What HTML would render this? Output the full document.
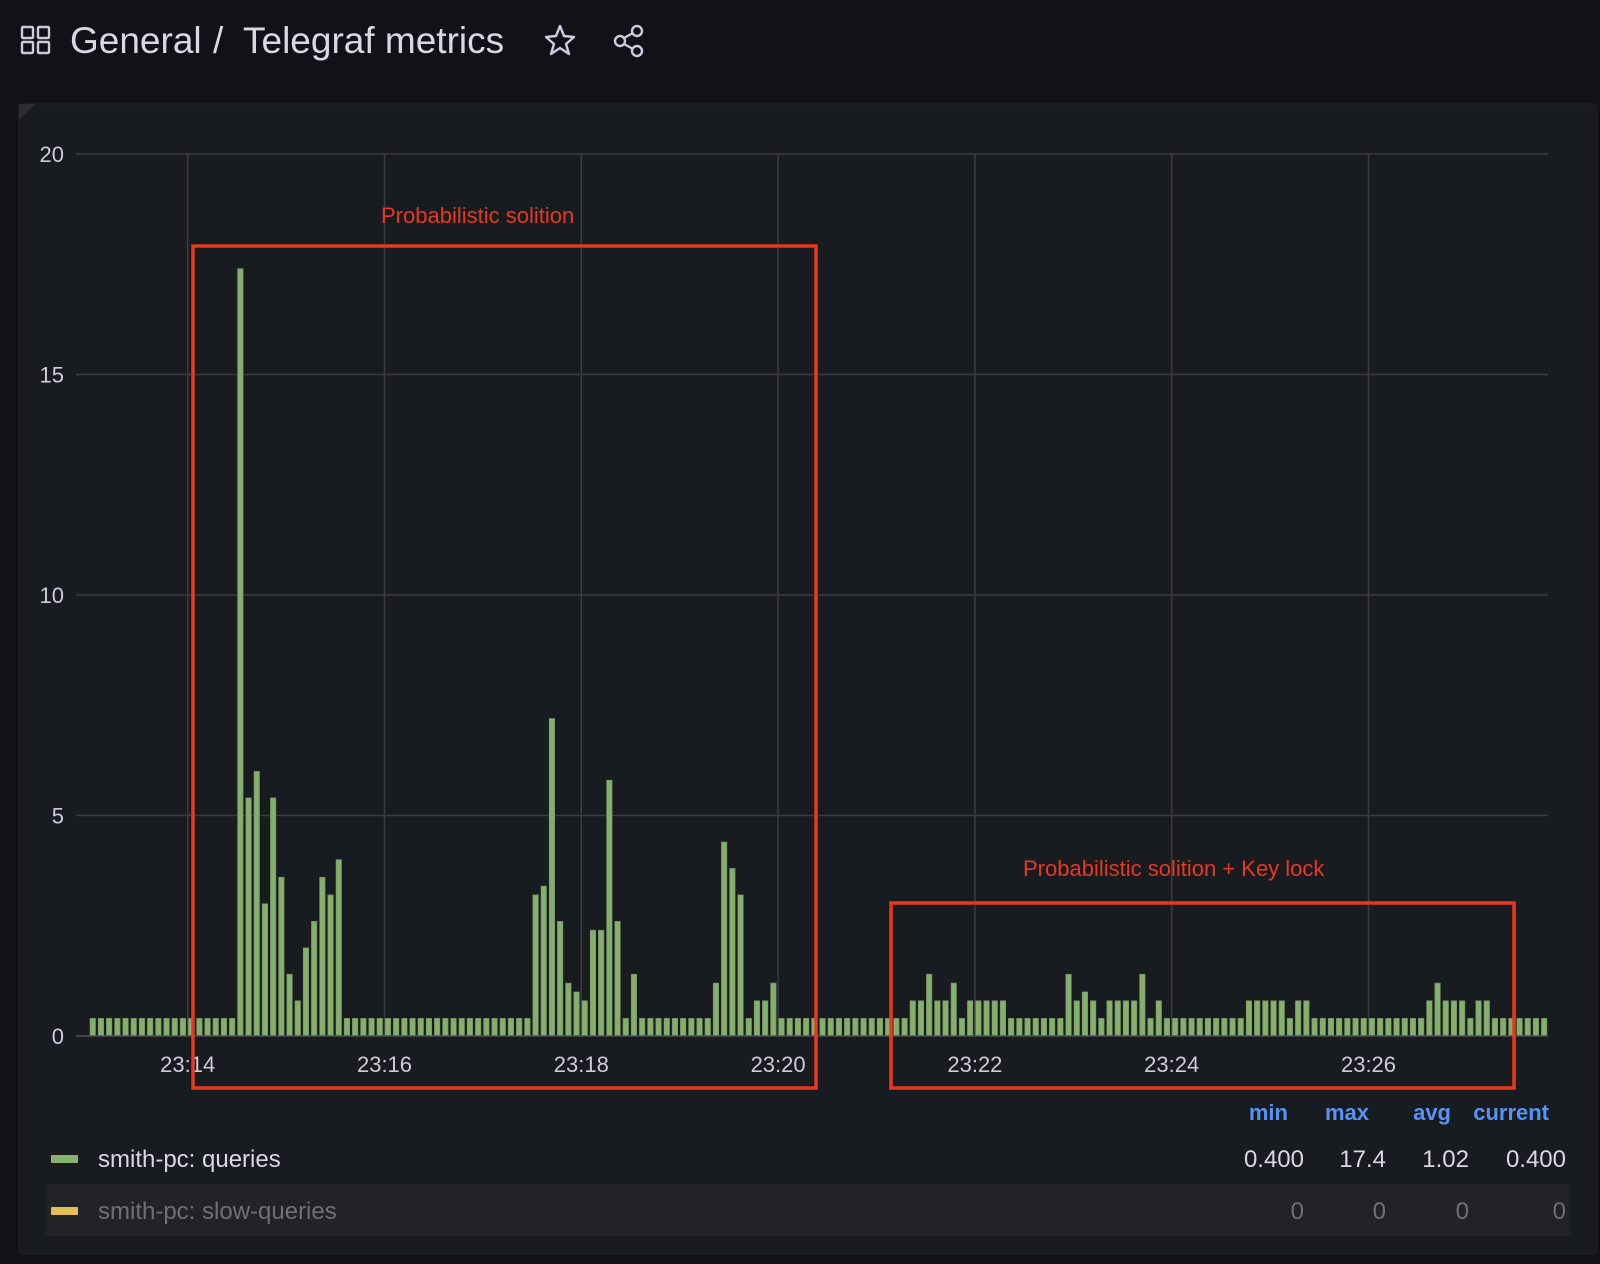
<!DOCTYPE html>
<html><head><meta charset="utf-8">
<style>
body{margin:0;width:1600px;height:1264px;background:#111217;overflow:hidden;font-family:"Liberation Sans",sans-serif;}
svg{display:block}
</style></head>
<body>
<svg width="1600" height="1264" viewBox="0 0 1600 1264" xmlns="http://www.w3.org/2000/svg">
<rect x="0" y="0" width="1600" height="1264" fill="#111217"/>
<g>
<g fill="none" stroke="#ccccdc" stroke-width="2.4">
<rect x="22" y="27" width="11" height="11" rx="1"/><rect x="38" y="27" width="11" height="11" rx="1"/>
<rect x="22" y="42" width="11" height="11" rx="1"/><rect x="38" y="42" width="11" height="11" rx="1"/>
</g>
<text x="70" y="53" font-size="37" fill="#d8d9e3">General</text>
<text x="213" y="53" font-size="37" fill="#d8d9e3">/</text>
<text x="243" y="53" font-size="37" fill="#d8d9e3">Telegraf metrics</text>
<path d="M560,26 L564,36 L574,37 L566,44 L569,54 L560,48 L551,54 L554,44 L546,37 L556,36 Z" fill="none" stroke="#ccccdc" stroke-width="2.4" stroke-linejoin="round"/>
<g fill="none" stroke="#ccccdc" stroke-width="2.4">
<circle cx="637" cy="31" r="5"/><circle cx="620" cy="41" r="5"/><circle cx="637" cy="51" r="5"/>
<line x1="624" y1="38" x2="633" y2="33"/><line x1="624" y1="44" x2="633" y2="49"/>
</g>
</g>
<rect x="19" y="104" width="1578" height="1150" rx="3" fill="#181b1f" stroke="#202226"/>
<path d="M19,104 L35,104 L19,120 Z" fill="#2a2d33"/>
<g id="grid"></g>
<g id="bars"></g>
<g id="axes"></g>
<g>
<rect x="193" y="246" width="623" height="842" fill="none" stroke="#e8391f" stroke-width="3.5"/>
<text x="381" y="223" font-size="22" fill="#e8391f">Probabilistic solition</text>
<rect x="891" y="903" width="623" height="185" fill="none" stroke="#e8391f" stroke-width="3.5"/>
<text x="1023" y="876" font-size="22" fill="#e8391f">Probabilistic solition + Key lock</text>
</g>
<g font-size="24">
<text x="1288" y="1120" text-anchor="end" fill="#5794f2" font-weight="bold" font-size="22">min</text>
<text x="1369" y="1120" text-anchor="end" fill="#5794f2" font-weight="bold" font-size="22">max</text>
<text x="1451" y="1120" text-anchor="end" fill="#5794f2" font-weight="bold" font-size="22">avg</text>
<text x="1549" y="1120" text-anchor="end" fill="#5794f2" font-weight="bold" font-size="22">current</text>
<g>
<rect x="51" y="1155" width="27" height="8" rx="1" fill="#8ab26f"/>
<text x="98" y="1167" fill="#d8d9e3">smith-pc: queries</text>
<text x="1304" y="1167" text-anchor="end" fill="#d8d9e3">0.400</text>
<text x="1386" y="1167" text-anchor="end" fill="#d8d9e3">17.4</text>
<text x="1469" y="1167" text-anchor="end" fill="#d8d9e3">1.02</text>
<text x="1566" y="1167" text-anchor="end" fill="#d8d9e3">0.400</text>
</g>
<g>
<rect x="46" y="1184" width="1524" height="52" fill="#222327"/>
<rect x="51" y="1207" width="27" height="8" rx="1" fill="#e5bf56"/>
<text x="98" y="1219" fill="#6e7079">smith-pc: slow-queries</text>
<text x="1304" y="1219" text-anchor="end" fill="#6e7079">0</text>
<text x="1386" y="1219" text-anchor="end" fill="#6e7079">0</text>
<text x="1469" y="1219" text-anchor="end" fill="#6e7079">0</text>
<text x="1566" y="1219" text-anchor="end" fill="#6e7079">0</text>
</g>
</g>
</svg>
<script>
const queries=[0.4,0.4,0.4,0.4,0.4,0.4,0.4,0.4,0.4,0.4,0.4,0.4,0.4,0.4,0.4,0.4,0.4,0.4,
17.4,5.4,6.0,3.0,5.4,3.6,1.4,0.8,2.0,2.6,3.6,3.2,4.0,
0.4,0.4,0.4,0.4,0.4,0.4,0.4,0.4,0.4,0.4,0.4,0.4,0.4,0.4,0.4,0.4,0.4,0.4,0.4,0.4,0.4,0.4,0.4,
3.2,3.4,7.2,2.6,1.2,1.0,0.8,2.4,2.4,5.8,2.6,0.4,1.4,
0.4,0.4,0.4,0.4,0.4,0.4,0.4,0.4,0.4,
1.2,4.4,3.8,3.2,0.4,0.8,0.8,1.2,
0.4,0.4,0.4,0.4,0.4,0.4,0.4,0.4,0.4,0.4,0.4,0.4,0.4,0.4,0.4,0.4,
0.8,0.8,1.4,0.8,0.8,1.2,0.4,0.8,0.8,0.8,0.8,0.8,
0.4,0.4,0.4,0.4,0.4,0.4,0.4,
1.4,0.8,1.0,0.8,0.4,0.8,0.8,0.8,0.8,1.4,0.4,0.8,
0.4,0.4,0.4,0.4,0.4,0.4,0.4,0.4,0.4,0.4,
0.8,0.8,0.8,0.8,0.8,0.4,0.8,0.8,
0.4,0.4,0.4,0.4,0.4,0.4,0.4,0.4,0.4,0.4,0.4,0.4,0.4,0.4,
0.8,1.2,0.8,0.8,0.8,0.4,0.8,0.8,
0.4,0.4,0.4,0.4,0.4,0.4,0.4];
const yTicks=[0,5,10,15,20];
const xTickLabels=["23:14","23:16","23:18","23:20","23:22","23:24","23:26"];
const xTickIndex=[12,36,60,84,108,132,156];

const NS="http://www.w3.org/2000/svg";
const plotL=76,plotR=1548,y0=1036,yTop=154,yMax=20;
const firstBarX=90,pitch=8.2,barW=5.5;
function yScale(v){return y0-(v/yMax)*(y0-yTop);}
function xScale(i){return firstBarX+pitch*i;}
function mk(tag,attrs,parent){const e=document.createElementNS(NS,tag);for(const k in attrs)e.setAttribute(k,attrs[k]);parent.appendChild(e);return e;}
const grid=document.getElementById('grid'),bars=document.getElementById('bars'),axes=document.getElementById('axes');
yTicks.forEach(v=>{
  const l=mk('line',{x1:plotL,x2:plotR,y1:yScale(v),y2:yScale(v),stroke:'#3a3c42','stroke-width':1.5},grid);
  
  
  const t=mk('text',{x:64,y:yScale(v)+8,'text-anchor':'end','font-size':22,fill:'#ccccdc'},axes);
  t.textContent=v;
  
  
});
xTickLabels.forEach((lab,k)=>{
  const x=xScale(xTickIndex[k])-0.7;
  const l=mk('line',{x1:x,x2:x,y1:yTop,y2:y0,stroke:'#3a3c42','stroke-width':1.5},grid);
  
  
  const t=mk('text',{x:x,y:1072,'text-anchor':'middle','font-size':22,fill:'#ccccdc'},axes);
  t.textContent=lab;
  
  
});
queries.forEach((v,i)=>{
  const r=mk('rect',{x:xScale(i),y:yScale(v),width:barW,height:y0-yScale(v),fill:'#86ae6e',stroke:'#6f9159','stroke-width':0.6},bars);
  
  
});
const base=mk('line',{x1:plotL,x2:plotR,y1:y0,y2:y0,stroke:'#4a4c52','stroke-width':1.5},axes);


</script>
</body></html>
